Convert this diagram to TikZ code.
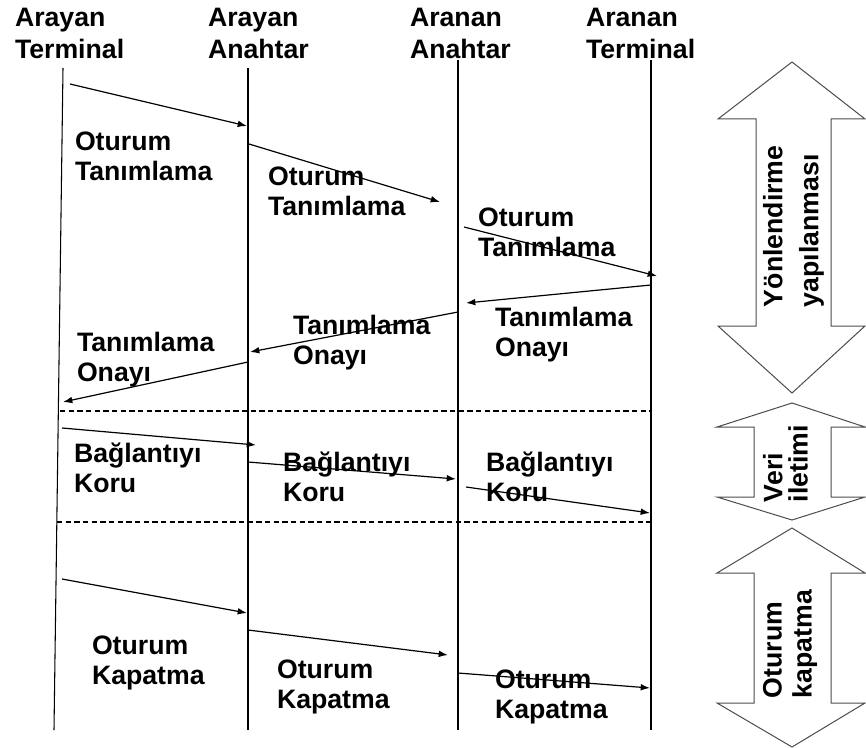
\documentclass[tikz,border=0pt]{standalone}
\usepackage{fontspec}
\setmainfont{Liberation Sans}
\usetikzlibrary{arrows.meta}
\begin{document}
\begin{tikzpicture}[x=0.75pt,y=-0.75pt,
  every node/.style={inner sep=0pt, outer sep=0pt, align=left, anchor=north west},
  lbl/.style={font=\bfseries\fontsize{20}{22.5}\selectfont},
  head/.style={font=\bfseries\fontsize{20}{24}\selectfont},
  lifeline/.style={draw=black, line width=0.8pt},
  msg/.style={draw=black, line width=0.9pt, -{Latex[length=7pt,width=5pt]}},
  sepline/.style={draw=black, line width=0.8pt, dash pattern=on 4pt off 2.5pt},
  blockarrow/.style={draw=black!70, line width=0.75pt, fill=white},
  phase/.style={rotate=90}
]
\useasboundingbox (0,0) rectangle (866,748);

% column headers
\node[head] (h1) at (15,8)  {Arayan\\Terminal};
\node[head] (h2) at (208,8) {Arayan\\Anahtar};
\node[head] (h3) at (410,8) {Aranan\\Anahtar};
\node[head] (h4) at (586,8) {Aranan\\Terminal};

% lifelines
\coordinate (t1) at (63,68);  \coordinate (b1) at (54,730);
\coordinate (t2) at (248,68); \coordinate (b2) at (248,730);
\coordinate (t3) at (458,60); \coordinate (b3) at (458,730);
\coordinate (t4) at (651,60); \coordinate (b4) at (651,730);
\draw[lifeline] (t1) -- (b1);
\draw[lifeline] (t2) -- (b2);
\draw[lifeline] (t3) -- (b3);
\draw[lifeline] (t4) -- (b4);

% phase separators
\coordinate (s1a) at (60,411);  \coordinate (s1b) at (651,411);
\coordinate (s2a) at (57,522);  \coordinate (s2b) at (651,522);
\draw[sepline] (s1a) -- (s1b);
\draw[sepline] (s2a) -- (s2b);

% message end points
\coordinate (m1s) at (70,84);   \coordinate (m1e) at (247,126);
\coordinate (m2s) at (249,144); \coordinate (m2e) at (440,202);
\coordinate (m3s) at (464,227); \coordinate (m3e) at (657,276);
\coordinate (m4s) at (651,285); \coordinate (m4e) at (466,303);
\coordinate (m5s) at (458,312); \coordinate (m5e) at (250,352);
\coordinate (m6s) at (248,362); \coordinate (m6e) at (63,402);
\coordinate (m7s) at (62,428);  \coordinate (m7e) at (256,445);
\coordinate (m8s) at (248,462); \coordinate (m8e) at (456,479);
\coordinate (m9s) at (466,487); \coordinate (m9e) at (650,513);
\coordinate (m10s) at (62,579); \coordinate (m10e) at (247,613);
\coordinate (m11s) at (248,630); \coordinate (m11e) at (448,655);
\coordinate (m12s) at (458,673); \coordinate (m12e) at (650,688);

% message labels
\node[lbl] (l1)  at (75,132)  {Oturum\\Tanımlama};
\node[lbl] (l2)  at (268,167) {Oturum\\Tanımlama};
\node[lbl] (l3)  at (478,208) {Oturum\\Tanımlama};
\node[lbl] (l4)  at (495,307) {Tanımlama\\Onayı};
\node[lbl] (l5)  at (293,315) {Tanımlama\\Onayı};
\node[lbl] (l6)  at (77,332)  {Tanımlama\\Onayı};
\node[lbl] (l7)  at (74,443)  {Bağlantıyı\\Koru};
\node[lbl] (l8)  at (283,452) {Bağlantıyı\\Koru};
\node[lbl] (l9)  at (486,452) {Bağlantıyı\\Koru};
\node[lbl] (l10) at (92,636)  {Oturum\\Kapatma};
\node[lbl] (l11) at (277,660) {Oturum\\Kapatma};
\node[lbl] (l12) at (495,670) {Oturum\\Kapatma};

% messages
\draw[msg] (m1s) -- (m1e);
\draw[msg] (m2s) -- (m2e);
\draw[msg] (m3s) -- (m3e);
\draw[msg] (m4s) -- (m4e);
\draw[msg] (m5s) -- (m5e);
\draw[msg] (m6s) -- (m6e);
\draw[msg] (m7s) -- (m7e);
\draw[msg] (m8s) -- (m8e);
\draw[msg] (m9s) -- (m9e);
\draw[msg] (m10s) -- (m10e);
\draw[msg] (m11s) -- (m11e);
\draw[msg] (m12s) -- (m12e);

% phase block arrows
\draw[blockarrow] (792,62) -- (865,119) -- (831,119) -- (831,326) -- (865,326)
  -- (792,393) -- (718,326) -- (756,326) -- (756,119) -- (718,119) -- cycle;
\draw[blockarrow] (792,403) -- (865,427) -- (831,427) -- (831,497) -- (865,497)
  -- (792,520) -- (717,497) -- (754,497) -- (754,427) -- (717,427) -- cycle;
\draw[blockarrow] (792,528) -- (865,573) -- (831,573) -- (831,703) -- (865,703)
  -- (792,747) -- (717,703) -- (754,703) -- (754,573) -- (717,573) -- cycle;

% phase names
\node[phase, font=\bfseries\fontsize{20}{27}\selectfont] (p1) at (763,307) {Yönlendirme\\yapılanması};
\node[phase, font=\bfseries\fontsize{20}{19}\selectfont] (p2) at (763,502) {Veri\\iletimi};
\node[phase, font=\bfseries\fontsize{20}{22.5}\selectfont] (p3) at (763,698) {Oturum\\kapatma};
\end{tikzpicture}
\end{document}
